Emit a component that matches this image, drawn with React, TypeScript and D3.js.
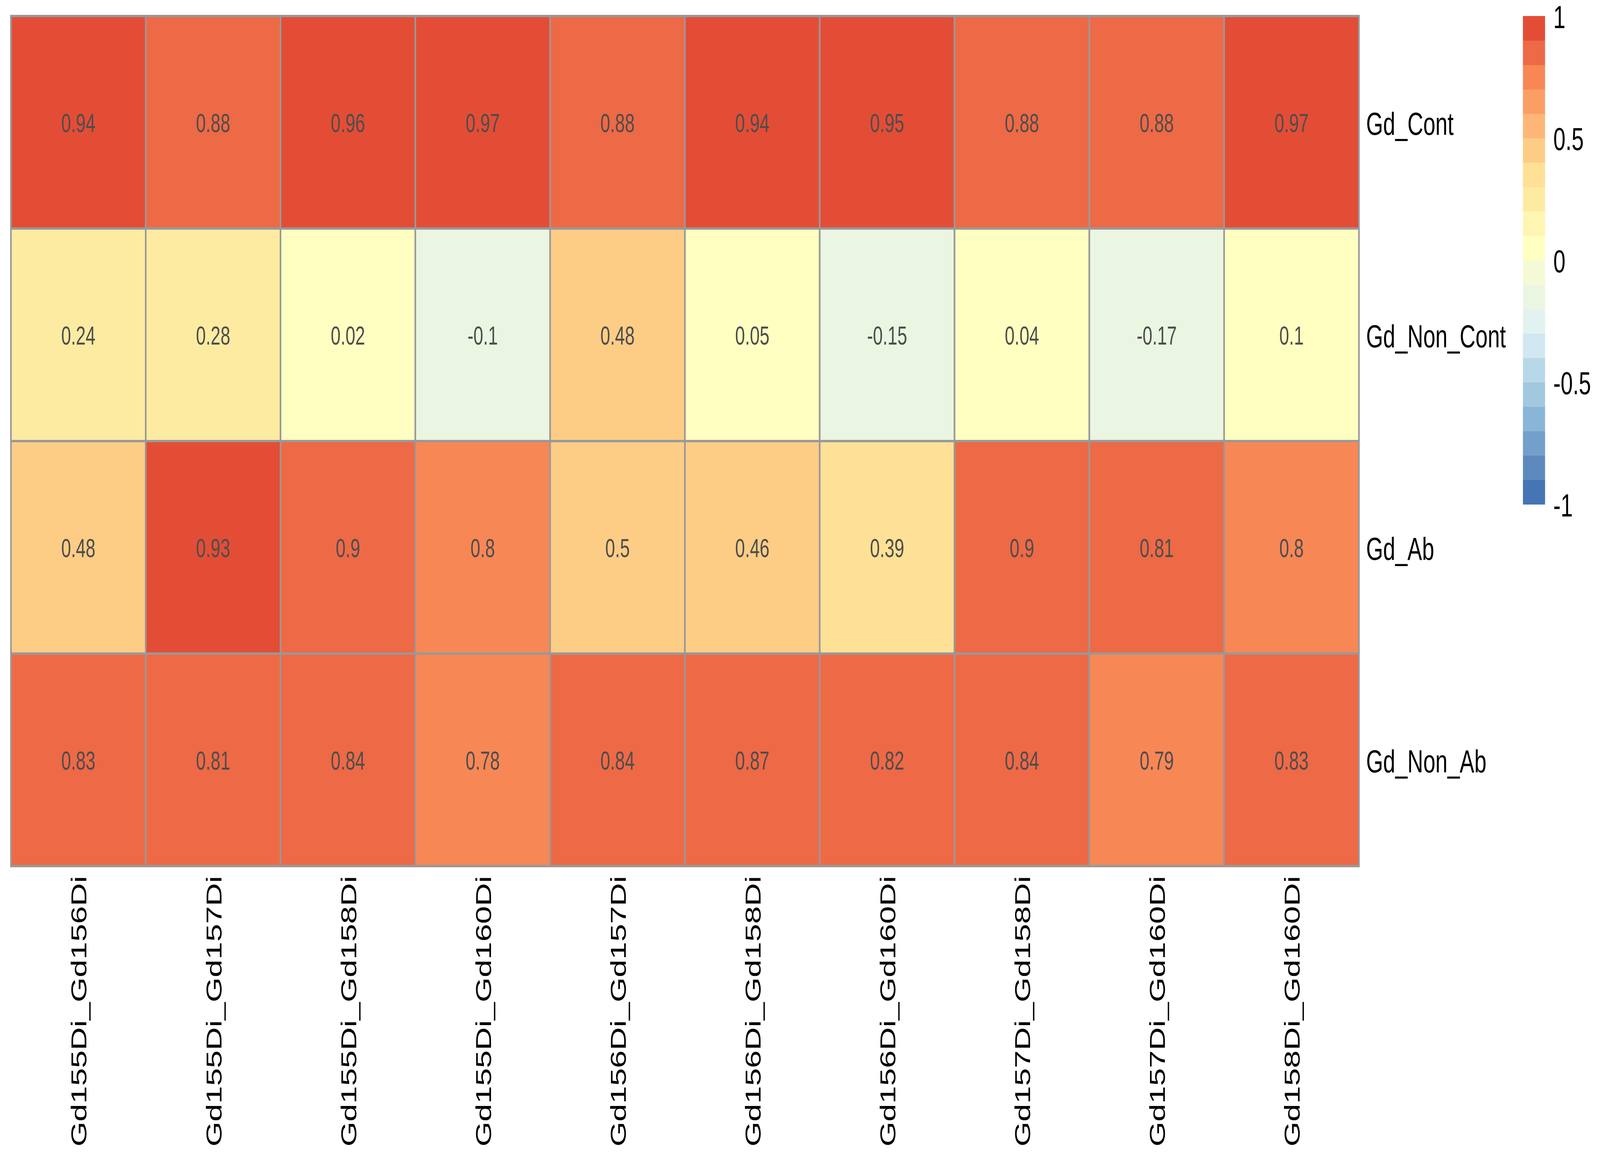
import { useEffect, useRef } from 'react'
import * as d3 from 'd3'

// columns (pairs) and rows (groups)
const colLabels = [
  'Gd155Di_Gd156Di',
  'Gd155Di_Gd157Di',
  'Gd155Di_Gd158Di',
  'Gd155Di_Gd160Di',
  'Gd156Di_Gd157Di',
  'Gd156Di_Gd158Di',
  'Gd156Di_Gd160Di',
  'Gd157Di_Gd158Di',
  'Gd157Di_Gd160Di',
  'Gd158Di_Gd160Di',
]
const rowLabels = ['Gd_Cont', 'Gd_Non_Cont', 'Gd_Ab', 'Gd_Non_Ab']

const gdCont = [0.94, 0.88, 0.96, 0.97, 0.88, 0.94, 0.95, 0.88, 0.88, 0.97]
const gdNonCont = [0.24, 0.28, 0.02, -0.1, 0.48, 0.05, -0.15, 0.04, -0.17, 0.1]
const gdAb = [0.48, 0.93, 0.9, 0.8, 0.5, 0.46, 0.39, 0.9, 0.81, 0.8]
const gdNonAb = [0.83, 0.81, 0.84, 0.78, 0.84, 0.87, 0.82, 0.84, 0.79, 0.83]

const legendTicks = [1, 0.5, 0, -0.5, -1]

// 20 colour bins from -1 to 1, low to high
const palette = [
  '#4575B4', '#5C8ABE', '#72A0CA', '#89B5D6', '#A1C8DF',
  '#B7D8E9', '#D1E7F1', '#E2F2F0', '#EBF6E2', '#F5FAD6',
  '#FFFFC1', '#FFF5B2', '#FEEBA2', '#FEE196', '#FDCD86',
  '#FDB678', '#FB9E64', '#F88756', '#EE6946', '#E34D36',
]

export default function App() {
  const svgRef = useRef<SVGSVGElement>(null)
  // drawing space of the reference; the svg is stretched to the window
  const W = 6000
  const H = 3000

  useEffect(() => {
    if (!svgRef.current) return
    const svg = d3.select(svgRef.current)
    svg.selectAll('*').remove()

    const font = "'Liberation Sans', Arial, Helvetica, sans-serif"
    const matrix = [gdCont, gdNonCont, gdAb, gdNonAb]
    const cells = matrix.flatMap((row, i) =>
      row.map((v, j) => ({ row: rowLabels[i], col: colLabels[j], value: v }))
    )

    // breaks -1, -0.9, ..., 1 ; intervals closed on the right
    const breaks = d3.range(21).map((i) => (i - 10) / 10)
    const colorOf = (v: number) => {
      const idx = Math.max(0, Math.min(palette.length - 1, d3.bisectLeft(breaks, v) - 1))
      return palette[idx]
    }

    svg.append('rect').attr('width', W).attr('height', H).attr('fill', '#fff')

    const hm = { left: 41, top: 41, width: 5055, height: 2176 }

    const x = d3.scaleBand<string>().domain(colLabels).range([hm.left, hm.left + hm.width])
    const y = d3.scaleBand<string>().domain(rowLabels).range([hm.top, hm.top + hm.height])

    const g = svg.append('g')

    g.selectAll('rect.cell')
      .data(cells)
      .enter()
      .append('rect')
      .attr('class', 'cell')
      .attr('x', (d) => x(d.col)!)
      .attr('y', (d) => y(d.row)!)
      .attr('width', x.bandwidth())
      .attr('height', y.bandwidth())
      .attr('fill', (d) => colorOf(d.value))
      .attr('stroke', '#999999')
      .attr('stroke-width', 6)

    g.selectAll('text.num')
      .data(cells)
      .enter()
      .append('text')
      .attr('class', 'num')
      .attr('x', (d) => x(d.col)! + x.bandwidth() / 2)
      .attr('y', (d) => y(d.row)! + y.bandwidth() / 2 + 2)
      .attr('text-anchor', 'middle')
      .attr('dominant-baseline', 'central')
      .attr('font-family', font)
      .attr('font-size', 66)
      .attr('fill', '#4D4D4D')
      .text((d) => String(d.value))

    // row labels
    g.selectAll('text.rowlab')
      .data(rowLabels)
      .enter()
      .append('text')
      .attr('class', 'rowlab')
      .attr('x', hm.left + hm.width + 27)
      .attr('y', (d) => y(d)! + y.bandwidth() / 2 + 3)
      .attr('dominant-baseline', 'central')
      .attr('font-family', font)
      .attr('font-size', 82)
      .attr('fill', '#000')
      .text((d) => d)

    // column labels, rotated
    g.selectAll('text.collab')
      .data(colLabels)
      .enter()
      .append('text')
      .attr('class', 'collab')
      .attr('transform', (d) => {
        const cx = x(d)! + x.bandwidth() / 2 + 2
        return `translate(${cx},${hm.top + hm.height + 25}) rotate(-90)`
      })
      .attr('text-anchor', 'end')
      .attr('dominant-baseline', 'central')
      .attr('font-family', font)
      .attr('font-size', 82)
      .attr('fill', '#000')
      .text((d) => d)

    // legend
    const lg = { left: 5711, top: 41, width: 83, height: 1250 }
    const ly = d3.scaleLinear().domain([-1, 1]).range([lg.top + lg.height, lg.top])
    const bins = d3.range(20).map((i) => ({ lo: breaks[i], hi: breaks[i + 1], color: palette[i] }))

    svg
      .append('g')
      .selectAll('rect')
      .data(bins)
      .enter()
      .append('rect')
      .attr('x', lg.left)
      .attr('y', (d) => ly(d.hi))
      .attr('width', lg.width)
      .attr('height', (d) => ly(d.lo) - ly(d.hi) + 0.5)
      .attr('fill', (d) => d.color)

    svg
      .append('g')
      .selectAll('text')
      .data(legendTicks)
      .enter()
      .append('text')
      .attr('x', lg.left + lg.width + 31)
      .attr('y', (d) => ly(d) + 2)
      .attr('dominant-baseline', 'central')
      .attr('font-family', font)
      .attr('font-size', 82)
      .attr('fill', '#000')
      .text((d) => String(d))
  }, [])

  return (
    <div style={{ position: 'fixed', left: 0, top: 0, width: '100vw', height: '100vh', background: '#fff' }}>
      <svg
        ref={svgRef}
        viewBox={`0 0 ${W} ${H}`}
        preserveAspectRatio="none"
        style={{ display: 'block', width: '100vw', height: '100vh' }}
      />
    </div>
  )
}
